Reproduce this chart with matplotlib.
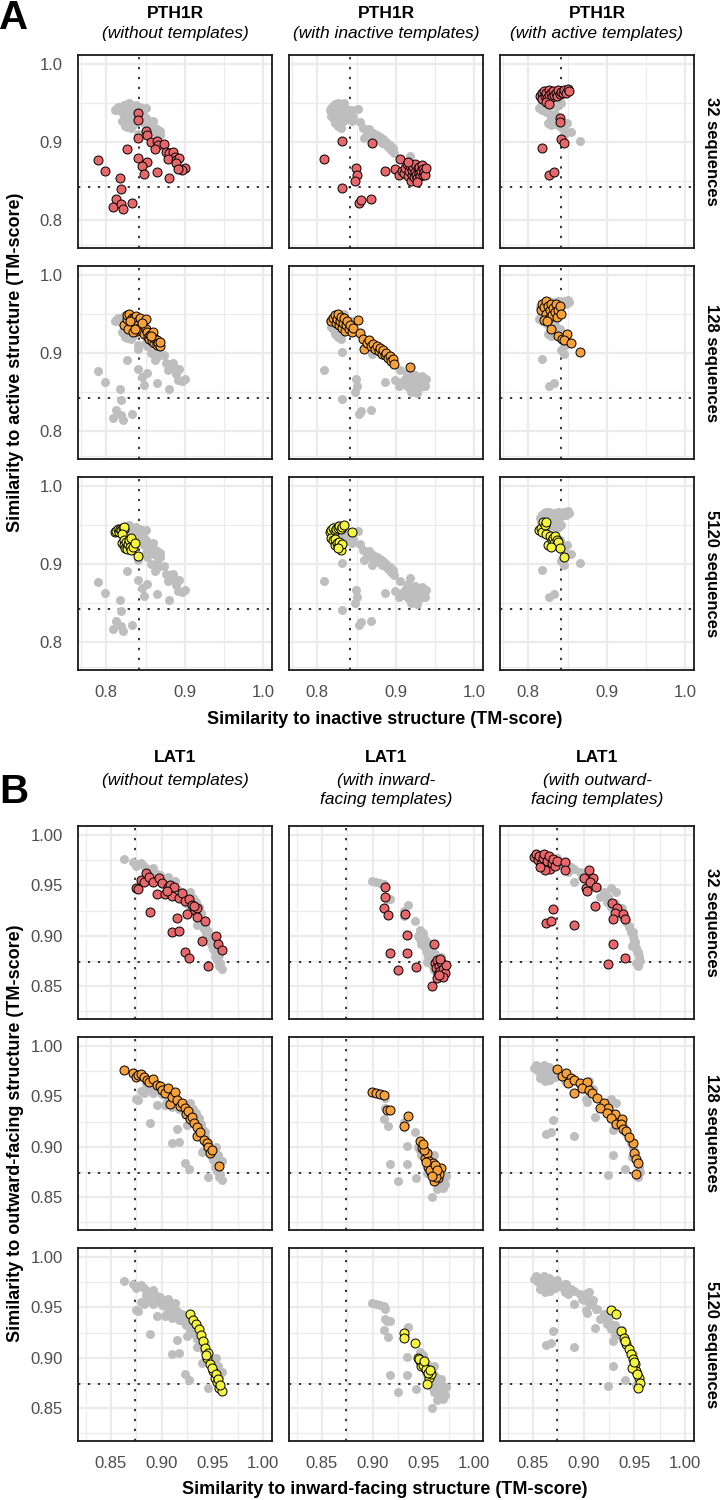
import matplotlib
matplotlib.use('Agg')
import matplotlib.pyplot as plt

plt.rcParams['font.family'] = ['Liberation Sans', 'DejaVu Sans']

# ---------------- data: (x, y) TM-score pairs per facet ----------------
# PTH1R: x = similarity to inactive, y = similarity to active
pth_none_32 = [(0.840, 0.937), (0.840, 0.928), (0.841, 0.905), (0.850, 0.914), (0.852, 0.909),
               (0.857, 0.900), (0.864, 0.901), (0.866, 0.896), (0.862, 0.891), (0.874, 0.897),
               (0.876, 0.887), (0.880, 0.885), (0.885, 0.887), (0.887, 0.881), (0.879, 0.878),
               (0.889, 0.877), (0.893, 0.879), (0.889, 0.873), (0.900, 0.867), (0.896, 0.864),
               (0.891, 0.865), (0.841, 0.879), (0.852, 0.874), (0.846, 0.869), (0.848, 0.859),
               (0.864, 0.861), (0.880, 0.853), (0.826, 0.891), (0.790, 0.877), (0.799, 0.863),
               (0.818, 0.853), (0.819, 0.839), (0.813, 0.827), (0.808, 0.816), (0.819, 0.820),
               (0.821, 0.814), (0.833, 0.822)]
pth_none_128 = [(0.823, 0.935), (0.826, 0.943), (0.827, 0.948), (0.829, 0.949), (0.831, 0.935),
                (0.833, 0.944), (0.835, 0.945), (0.836, 0.938), (0.837, 0.939), (0.838, 0.947),
                (0.839, 0.928), (0.840, 0.941), (0.841, 0.936), (0.842, 0.932), (0.843, 0.945),
                (0.844, 0.930), (0.846, 0.928), (0.847, 0.936), (0.848, 0.924), (0.850, 0.930),
                (0.851, 0.943), (0.852, 0.926), (0.853, 0.920), (0.855, 0.918), (0.856, 0.923),
                (0.858, 0.915), (0.860, 0.926), (0.861, 0.912), (0.862, 0.917), (0.864, 0.916),
                (0.865, 0.910), (0.866, 0.913), (0.868, 0.909), (0.869, 0.914), (0.828, 0.930),
                (0.834, 0.926), (0.845, 0.938), (0.857, 0.921), (0.830, 0.940), (0.836, 0.931)]
pth_none_5120 = [(0.811, 0.941), (0.813, 0.942), (0.815, 0.944), (0.816, 0.940), (0.818, 0.945),
                 (0.819, 0.943), (0.821, 0.946), (0.822, 0.944), (0.823, 0.947), (0.820, 0.938),
                 (0.820, 0.926), (0.822, 0.931), (0.823, 0.924), (0.824, 0.920), (0.825, 0.928),
                 (0.826, 0.922), (0.827, 0.919), (0.828, 0.925), (0.829, 0.930), (0.830, 0.921),
                 (0.831, 0.933), (0.832, 0.918), (0.834, 0.922), (0.836, 0.926), (0.840, 0.910)]

pth_inact_32 = [(0.809, 0.878), (0.832, 0.901), (0.831, 0.841), (0.849, 0.866), (0.851, 0.858),
                (0.848, 0.850), (0.853, 0.822), (0.856, 0.826), (0.869, 0.827), (0.870, 0.899),
                (0.886, 0.862), (0.899, 0.865), (0.905, 0.878), (0.904, 0.858), (0.908, 0.862),
                (0.910, 0.860), (0.912, 0.866), (0.914, 0.872), (0.915, 0.856), (0.917, 0.862),
                (0.918, 0.869), (0.919, 0.850), (0.920, 0.858), (0.921, 0.864), (0.922, 0.868),
                (0.923, 0.855), (0.924, 0.861), (0.925, 0.872), (0.926, 0.857), (0.927, 0.853),
                (0.928, 0.866), (0.929, 0.860), (0.930, 0.868), (0.931, 0.856), (0.932, 0.863),
                (0.933, 0.870), (0.934, 0.858), (0.935, 0.865), (0.936, 0.861), (0.937, 0.857),
                (0.938, 0.866), (0.916, 0.874), (0.927, 0.849)]
pth_inact_128 = [(0.818, 0.940), (0.820, 0.945), (0.822, 0.948), (0.824, 0.938), (0.825, 0.943),
                 (0.827, 0.950), (0.828, 0.935), (0.829, 0.941), (0.830, 0.946), (0.832, 0.932),
                 (0.833, 0.938), (0.834, 0.944), (0.835, 0.928), (0.836, 0.935), (0.838, 0.940),
                 (0.840, 0.930), (0.842, 0.936), (0.844, 0.926), (0.846, 0.932), (0.852, 0.942),
                 (0.855, 0.925), (0.858, 0.918), (0.860, 0.905), (0.863, 0.912), (0.866, 0.916),
                 (0.868, 0.908), (0.871, 0.911), (0.874, 0.905), (0.876, 0.909), (0.878, 0.902),
                 (0.880, 0.906), (0.882, 0.899), (0.884, 0.903), (0.886, 0.897), (0.888, 0.900),
                 (0.890, 0.893), (0.892, 0.896), (0.894, 0.889), (0.896, 0.892), (0.898, 0.886),
                 (0.918, 0.882)]
pth_inact_5120 = [(0.816, 0.941), (0.818, 0.943), (0.820, 0.946), (0.822, 0.942), (0.824, 0.945),
                  (0.826, 0.946), (0.828, 0.948), (0.830, 0.944), (0.832, 0.947), (0.834, 0.950),
                  (0.844, 0.941), (0.818, 0.933), (0.820, 0.930), (0.822, 0.924), (0.823, 0.932),
                  (0.825, 0.926), (0.826, 0.922), (0.828, 0.928), (0.829, 0.922), (0.830, 0.918),
                  (0.831, 0.925), (0.827, 0.920)]

pth_act_32 = [(0.815, 0.958), (0.817, 0.962), (0.818, 0.955), (0.820, 0.965), (0.821, 0.959),
              (0.823, 0.962), (0.824, 0.956), (0.826, 0.966), (0.827, 0.960), (0.829, 0.963),
              (0.830, 0.957), (0.832, 0.965), (0.833, 0.960), (0.835, 0.963), (0.836, 0.958),
              (0.838, 0.966), (0.840, 0.961), (0.842, 0.964), (0.844, 0.962), (0.846, 0.966),
              (0.848, 0.963), (0.850, 0.967), (0.852, 0.965), (0.822, 0.951), (0.826, 0.948),
              (0.840, 0.931), (0.840, 0.925), (0.842, 0.903), (0.845, 0.898), (0.817, 0.892),
              (0.827, 0.857), (0.833, 0.861)]
pth_act_128 = [(0.816, 0.955), (0.818, 0.962), (0.820, 0.958), (0.822, 0.966), (0.823, 0.950),
               (0.825, 0.960), (0.826, 0.945), (0.828, 0.955), (0.829, 0.962), (0.830, 0.948),
               (0.832, 0.957), (0.834, 0.952), (0.835, 0.963), (0.836, 0.946), (0.838, 0.955),
               (0.840, 0.960), (0.842, 0.950), (0.820, 0.942), (0.824, 0.940), (0.829, 0.930),
               (0.838, 0.922), (0.843, 0.918), (0.849, 0.924), (0.846, 0.916), (0.854, 0.912),
               (0.866, 0.901)]
pth_act_5120 = [(0.814, 0.943), (0.816, 0.946), (0.818, 0.941), (0.819, 0.954), (0.821, 0.950),
                (0.822, 0.954), (0.823, 0.938), (0.825, 0.924), (0.828, 0.935), (0.830, 0.930),
                (0.831, 0.933), (0.833, 0.926), (0.834, 0.936), (0.836, 0.931), (0.838, 0.928),
                (0.840, 0.920), (0.846, 0.908), (0.829, 0.921)]

# LAT1: x = similarity to inward-facing, y = similarity to outward-facing
lat_none_32 = [(0.875, 0.947), (0.877, 0.946), (0.880, 0.955), (0.883, 0.953), (0.885, 0.962),
               (0.888, 0.958), (0.889, 0.924), (0.892, 0.953), (0.895, 0.942), (0.897, 0.957),
               (0.900, 0.952), (0.903, 0.942), (0.906, 0.948), (0.908, 0.950), (0.910, 0.940),
               (0.912, 0.948), (0.915, 0.918), (0.917, 0.938), (0.920, 0.943), (0.923, 0.935),
               (0.925, 0.922), (0.927, 0.937), (0.930, 0.931), (0.933, 0.926), (0.935, 0.928),
               (0.935, 0.919), (0.940, 0.895), (0.943, 0.915), (0.910, 0.904), (0.917, 0.905),
               (0.923, 0.884), (0.927, 0.878), (0.954, 0.900), (0.956, 0.892), (0.960, 0.886),
               (0.946, 0.870), (0.932, 0.930), (0.905, 0.945)]
lat_none_128 = [(0.863, 0.976), (0.872, 0.973), (0.875, 0.969), (0.877, 0.971), (0.880, 0.972),
                (0.883, 0.969), (0.886, 0.966), (0.888, 0.964), (0.892, 0.967), (0.895, 0.961),
                (0.898, 0.960), (0.900, 0.956), (0.903, 0.953), (0.906, 0.958), (0.908, 0.943),
                (0.910, 0.949), (0.913, 0.954), (0.915, 0.946), (0.918, 0.941), (0.920, 0.944),
                (0.923, 0.939), (0.924, 0.933), (0.926, 0.936), (0.928, 0.928), (0.930, 0.930),
                (0.932, 0.924), (0.935, 0.920), (0.935, 0.911), (0.938, 0.915), (0.942, 0.907),
                (0.945, 0.904), (0.946, 0.900), (0.948, 0.894), (0.950, 0.897), (0.957, 0.881)]
lat_none_5120 = [(0.928, 0.944), (0.931, 0.938), (0.934, 0.934), (0.937, 0.929), (0.939, 0.923),
                 (0.941, 0.917), (0.943, 0.910), (0.945, 0.900), (0.946, 0.905), (0.948, 0.894),
                 (0.951, 0.887), (0.953, 0.880), (0.955, 0.876), (0.957, 0.870), (0.960, 0.867),
                 (0.950, 0.890), (0.954, 0.884), (0.956, 0.879), (0.958, 0.873), (0.944, 0.903)]

lat_in_32 = [(0.912, 0.948), (0.912, 0.939), (0.911, 0.928), (0.915, 0.921), (0.932, 0.922),
             (0.934, 0.901), (0.917, 0.883), (0.934, 0.883), (0.925, 0.866), (0.943, 0.869),
             (0.961, 0.892), (0.959, 0.850), (0.962, 0.873), (0.963, 0.868), (0.964, 0.876),
             (0.965, 0.862), (0.966, 0.870), (0.967, 0.865), (0.968, 0.874), (0.969, 0.860),
             (0.970, 0.867), (0.971, 0.863), (0.972, 0.871), (0.964, 0.858), (0.967, 0.877),
             (0.970, 0.859), (0.966, 0.861)]
lat_in_128 = [(0.899, 0.954), (0.903, 0.953), (0.907, 0.952), (0.911, 0.951), (0.914, 0.937),
              (0.917, 0.937), (0.935, 0.931), (0.931, 0.921), (0.947, 0.906), (0.949, 0.899),
              (0.952, 0.889), (0.954, 0.894), (0.956, 0.886), (0.958, 0.881), (0.961, 0.878),
              (0.963, 0.874), (0.965, 0.869), (0.968, 0.879), (0.966, 0.873), (0.961, 0.866),
              (0.963, 0.870), (0.958, 0.875), (0.955, 0.880), (0.951, 0.897), (0.960, 0.884),
              (0.957, 0.877), (0.962, 0.882), (0.964, 0.877), (0.953, 0.885), (0.959, 0.871),
              (0.950, 0.903)]
lat_in_5120 = [(0.931, 0.925), (0.931, 0.920), (0.942, 0.915), (0.945, 0.900), (0.947, 0.897),
               (0.949, 0.894), (0.952, 0.890), (0.954, 0.887), (0.956, 0.880), (0.948, 0.892),
               (0.958, 0.884), (0.954, 0.874), (0.946, 0.899), (0.950, 0.893), (0.953, 0.889),
               (0.955, 0.885), (0.951, 0.897), (0.957, 0.888)]

lat_out_32 = [(0.851, 0.978), (0.853, 0.981), (0.855, 0.975), (0.856, 0.979), (0.858, 0.971),
              (0.860, 0.977), (0.861, 0.981), (0.863, 0.968), (0.864, 0.974), (0.866, 0.979),
              (0.867, 0.966), (0.869, 0.972), (0.870, 0.976), (0.872, 0.969), (0.874, 0.974),
              (0.862, 0.965), (0.857, 0.968), (0.882, 0.973), (0.882, 0.965), (0.905, 0.965),
              (0.900, 0.957), (0.909, 0.957), (0.902, 0.947), (0.906, 0.953), (0.903, 0.945),
              (0.912, 0.948), (0.911, 0.930), (0.928, 0.933), (0.933, 0.928), (0.931, 0.923),
              (0.939, 0.922), (0.941, 0.917), (0.929, 0.917), (0.929, 0.892), (0.941, 0.878),
              (0.924, 0.872), (0.870, 0.927), (0.863, 0.913), (0.868, 0.915), (0.891, 0.911)]
lat_out_128 = [(0.874, 0.977), (0.879, 0.970), (0.883, 0.973), (0.888, 0.968), (0.885, 0.963),
               (0.891, 0.966), (0.896, 0.963), (0.903, 0.964), (0.898, 0.958), (0.905, 0.956),
               (0.891, 0.953), (0.908, 0.953), (0.913, 0.948), (0.920, 0.944), (0.924, 0.939),
               (0.931, 0.933), (0.938, 0.928), (0.916, 0.939), (0.923, 0.934), (0.927, 0.929),
               (0.932, 0.923), (0.937, 0.923), (0.939, 0.918), (0.942, 0.916), (0.949, 0.904),
               (0.950, 0.894), (0.952, 0.888), (0.954, 0.884), (0.952, 0.873), (0.945, 0.910)]
lat_out_5120 = [(0.927, 0.947), (0.932, 0.944), (0.937, 0.927), (0.940, 0.920), (0.942, 0.914),
                (0.945, 0.909), (0.947, 0.904), (0.949, 0.899), (0.951, 0.894), (0.952, 0.887),
                (0.955, 0.880), (0.956, 0.875), (0.954, 0.870), (0.948, 0.890), (0.941, 0.917),
                (0.950, 0.896), (0.953, 0.884)]

row_labels = ['32 sequences', '128 sequences', '5120 sequences']
depth_colors = ['#E8676B', '#F6A139', '#F4F43C']

pth_grid = [[pth_none_32, pth_inact_32, pth_act_32],
            [pth_none_128, pth_inact_128, pth_act_128],
            [pth_none_5120, pth_inact_5120, pth_act_5120]]
lat_grid = [[lat_none_32, lat_in_32, lat_out_32],
            [lat_none_128, lat_in_128, lat_out_128],
            [lat_none_5120, lat_in_5120, lat_out_5120]]

pth_titles = ['(without templates)', '(with inactive templates)', '(with active templates)']
lat_titles = ['(without templates)', '(with inward-\nfacing templates)', '(with outward-\nfacing templates)']

pth_cut = 0.842
lat_cut = 0.874

# ---------------- layout (pixels) ----------------
W, H = 723, 1500
fig = plt.figure(figsize=(W / 100, H / 100), dpi=100)

col_left = [78, 289, 500]
pw, ph = 194, 193


def fx(x):
    return x / W


def fy(y):
    return 1 - y / H


def draw_panel(grid, tops, lims, ticks, tlabels, major, minor, cut, gene, titles, title_y,
               xlabel, ylabel, xlabel_y, letter, letter_y):
    for c in range(3):
        # grey background = every model of that column
        gx = [p[0] for r in range(3) for p in grid[r][c]]
        gy = [p[1] for r in range(3) for p in grid[r][c]]
        for r in range(3):
            ax = fig.add_axes([fx(col_left[c]), fy(tops[r] + ph), pw / W, ph / H])
            ax.set_xlim(lims)
            ax.set_ylim(lims)
            for v in major:
                ax.axvline(v, color='#EBEBEB', lw=1.6, zorder=0)
                ax.axhline(v, color='#EBEBEB', lw=1.6, zorder=0)
            for v in minor:
                ax.axvline(v, color='#EBEBEB', lw=0.9, zorder=0)
                ax.axhline(v, color='#EBEBEB', lw=0.9, zorder=0)
            ax.axvline(cut, color='black', lw=1.1, ls=(0, (1.5, 5)), zorder=1)
            ax.axhline(cut, color='black', lw=1.1, ls=(0, (1.5, 5)), zorder=1)
            ax.scatter(gx, gy, s=42, c='#BEBEBE', linewidths=0, zorder=2)
            px = [p[0] for p in grid[r][c]]
            py = [p[1] for p in grid[r][c]]
            ax.scatter(px, py, s=42, c=depth_colors[r], edgecolors='black', linewidths=0.7, zorder=3)
            ax.set_xticks(ticks)
            ax.set_yticks(ticks)
            ax.tick_params(length=0, labelsize=12, labelcolor='#4D4D4D', pad=11)
            ax.set_xticklabels(tlabels if r == 2 else [])
            ax.set_yticklabels(tlabels if c == 0 else [])
            for s in ax.spines.values():
                s.set_linewidth(1.3)
                s.set_color('#1A1A1A')
            if c == 2:
                fig.text(fx(712), fy(tops[r] + ph / 2), row_labels[r], rotation=270,
                         ha='center', va='center', fontsize=12, fontweight='bold')
        cx = col_left[c] + pw / 2
        fig.text(fx(cx), fy(title_y[0]), gene, ha='center', va='center',
                 fontsize=12.5, fontweight='bold')
        fig.text(fx(cx), fy(title_y[1]), titles[c], ha='center', va='top',
                 fontsize=12.5, fontstyle='italic', linespacing=1.3)
    fig.text(fx(385), fy(xlabel_y), xlabel, ha='center', va='center',
             fontsize=13, fontweight='bold')
    fig.text(fx(16), fy((tops[0] + tops[2] + ph) / 2), ylabel, ha='center', va='center',
             rotation=90, fontsize=13, fontweight='bold')
    fig.text(fx(14), fy(letter_y), letter, ha='center', va='center',
             fontsize=29, fontweight='bold')


draw_panel(pth_grid, [55, 266, 477], (0.764, 1.011), [0.8, 0.9, 1.0], ['0.8', '0.9', '1.0'],
           [0.8, 0.9, 1.0], [0.768, 0.85, 0.95], pth_cut, 'PTH1R', pth_titles, (13, 26),
           'Similarity to inactive structure (TM-score)',
           'Similarity to active structure (TM-score)', 719, 'A', 18)

draw_panel(lat_grid, [826, 1037, 1248], (0.8175, 1.009), [0.85, 0.90, 0.95, 1.00],
           ['0.85', '0.90', '0.95', '1.00'],
           [0.85, 0.90, 0.95, 1.00], [0.825, 0.875, 0.925, 0.975], lat_cut, 'LAT1', lat_titles,
           (758, 773), 'Similarity to inward-facing structure (TM-score)',
           'Similarity to outward-facing structure (TM-score)', 1490, 'B', 792)

fig.savefig('out.png', dpi=100)
